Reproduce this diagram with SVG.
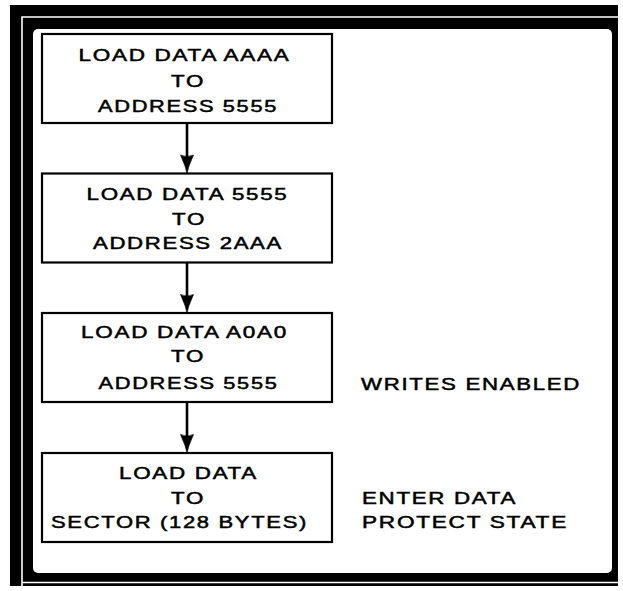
<svg xmlns="http://www.w3.org/2000/svg" width="623" height="591" viewBox="0 0 623 591">
<style>
.box{fill:#fff;stroke:#000;stroke-width:2.2}
.t{font-family:"Liberation Sans",Arial,sans-serif;font-size:17px;letter-spacing:1.3px;fill:#000;stroke:#000;stroke-width:0.5;text-anchor:middle}
.l{text-anchor:start}
.conn{stroke:#000;stroke-width:2.6;fill:none}
.head{fill:#000;stroke:#000;stroke-width:0.6}
</style>
<g id="frame">
<rect x="10" y="5" width="608" height="581" fill="#000"/>
<path d="M22,586 V17 H618 M22,582.5 H618" stroke="#fff" stroke-width="1.6" fill="none"/>
<rect x="33" y="29" width="579" height="544" rx="5" fill="#fff"/>
</g>
<g id="connectors">
<line class="conn" x1="187" y1="123" x2="187" y2="160"/>
<path class="head" d="M180.5,155 Q187,158 193.5,155 L189,166 L187,173.5 L185,166 Z"/>
<line class="conn" x1="187" y1="262.5" x2="187" y2="300"/>
<path class="head" d="M180.5,294.5 Q187,297.5 193.5,294.5 L189,305.5 L187,313 L185,305.5 Z"/>
<line class="conn" x1="187" y1="402" x2="187" y2="440"/>
<path class="head" d="M180.5,434.5 Q187,437.5 193.5,434.5 L189,445.5 L187,453 L185,445.5 Z"/>
</g>
<g id="n1">
<rect class="box" x="42" y="34" width="290" height="89"/>
<text class="t" x="184.5" y="61" textLength="212" lengthAdjust="spacingAndGlyphs">LOAD DATA AAAA</text>
<text class="t" x="188" y="87" textLength="34" lengthAdjust="spacingAndGlyphs">TO</text>
<text class="t" x="188" y="112" textLength="180" lengthAdjust="spacingAndGlyphs">ADDRESS 5555</text>
</g>
<g id="n2">
<rect class="box" x="42" y="173.5" width="290" height="89"/>
<text class="t" x="187.5" y="200" textLength="202" lengthAdjust="spacingAndGlyphs">LOAD DATA 5555</text>
<text class="t" x="189" y="225" textLength="34" lengthAdjust="spacingAndGlyphs">TO</text>
<text class="t" x="188" y="249" textLength="190" lengthAdjust="spacingAndGlyphs">ADDRESS 2AAA</text>
</g>
<g id="n3">
<rect class="box" x="42" y="313" width="290" height="89"/>
<text class="t" x="184.5" y="338" textLength="207" lengthAdjust="spacingAndGlyphs">LOAD DATA A0A0</text>
<text class="t" x="188" y="362" textLength="34" lengthAdjust="spacingAndGlyphs">TO</text>
<text class="t" x="188.5" y="389" textLength="180" lengthAdjust="spacingAndGlyphs">ADDRESS 5555</text>
</g>
<g id="n4">
<rect class="box" x="42" y="453" width="290" height="89"/>
<text class="t" x="188.5" y="479" textLength="139" lengthAdjust="spacingAndGlyphs">LOAD DATA</text>
<text class="t" x="188" y="504" textLength="34" lengthAdjust="spacingAndGlyphs">TO</text>
<text class="t" x="179.5" y="528" textLength="257" lengthAdjust="spacingAndGlyphs">SECTOR (128 BYTES)</text>
</g>
<g id="labels">
<text class="t l" x="361" y="390" textLength="220" lengthAdjust="spacingAndGlyphs">WRITES ENABLED</text>
<text class="t l" x="362" y="504" textLength="155" lengthAdjust="spacingAndGlyphs">ENTER DATA</text>
<text class="t l" x="362" y="528" textLength="206" lengthAdjust="spacingAndGlyphs">PROTECT STATE</text>
</g>
</svg>
